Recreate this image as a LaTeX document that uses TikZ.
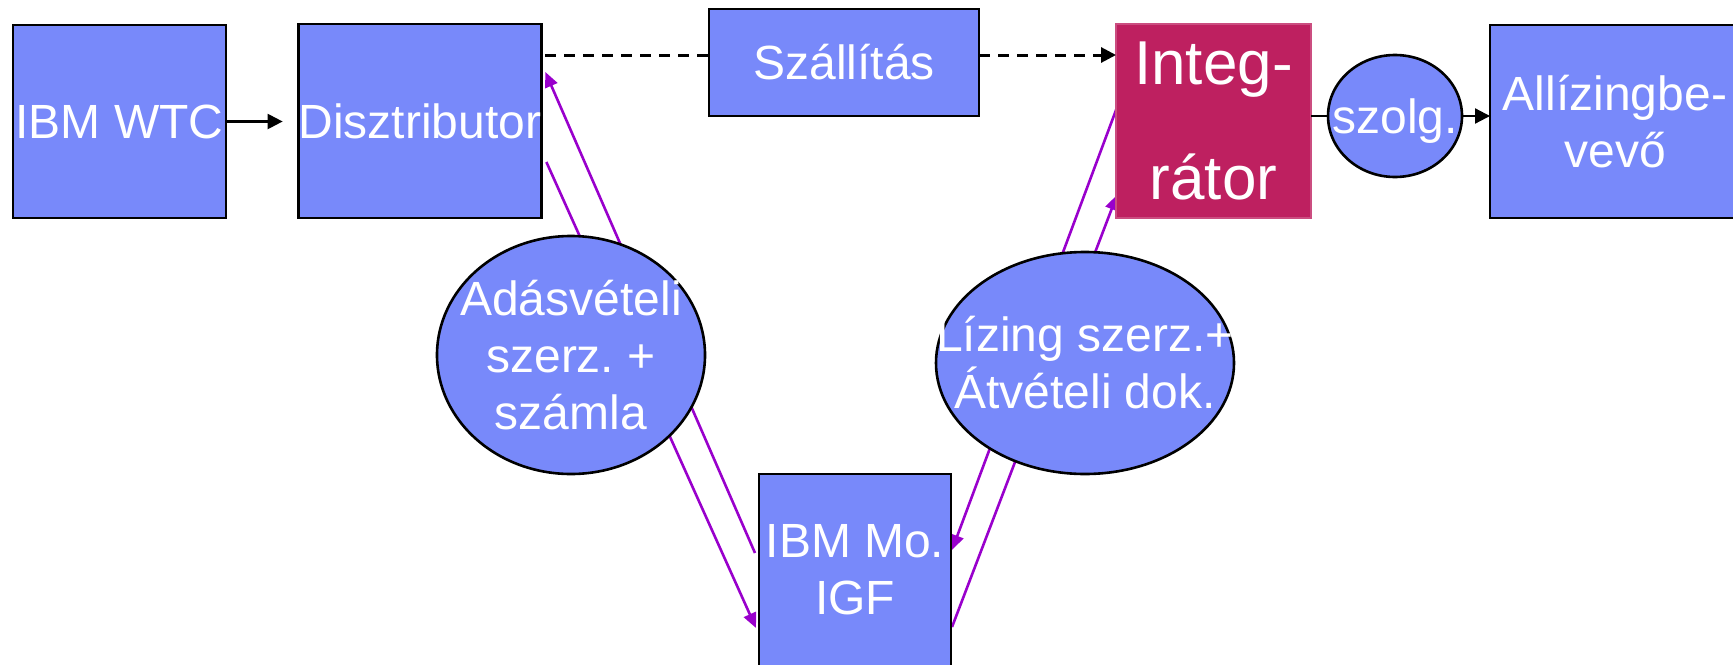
\documentclass[tikz,border=0pt]{standalone}
\usepackage{fontspec}
\setmainfont{Liberation Sans}
\usetikzlibrary{arrows.meta,shapes.geometric,calc}
\definecolor{boxblue}{RGB}{120,137,250}
\definecolor{integred}{RGB}{190,32,96}
\definecolor{flowpurple}{RGB}{153,0,204}
\pgfdeclarelayer{bg}
\pgfsetlayers{bg,main}
\frenchspacing
\tikzset{
  box/.style={rectangle, draw=black, line width=1.3pt, fill=boxblue, inner sep=0pt, outer sep=0pt,
    text=white, font=\fontsize{24}{28.5}\selectfont\frenchspacing, align=center},
  oval/.style={ellipse, draw=black, line width=1.3pt, fill=boxblue, inner sep=0pt, outer sep=0pt},
  lbl/.style={text=white, inner sep=0pt, font=\fontsize{24}{28.5}\selectfont\frenchspacing, align=center},
  blackarrow/.style={line width=1.1pt, -{Triangle[length=7.5pt,width=7.5pt]}},
  dashline/.style={line width=1.5pt, dash pattern=on 5.5pt off 4pt},
  flow/.style={draw=flowpurple, line width=1.3pt, -{Triangle[length=7.5pt,width=6.5pt]}}
}
\begin{document}
\begin{tikzpicture}[x=0.5pt,y=-0.5pt]
\useasboundingbox (0,0) rectangle (1733,664);
\clip (0,0) rectangle (1733,664);
\node[box, minimum width=106.5pt, minimum height=96.5pt] (wtc) at (119.5,121.5) {IBM WTC};
\node[box, minimum width=119pt, minimum height=97pt] (dist) at (420,121) {Disztributor};
\node[box, minimum width=135pt, minimum height=53.5pt] (ship) at (844,62.5) {Szállítás};
\node[box, draw=integred!80!white, fill=integred, line width=0.6pt, minimum width=97.5pt, minimum height=97pt,
  font=\fontsize{31}{57.5}\selectfont] (integ) at (1213.5,121) {Integ-\\rátor};
\node[oval, minimum width=67pt, minimum height=61pt] (szolg) at (1395,116) {};
\node[lbl, text depth=0pt] (szolgt) at (szolg) {szolg.};
\node[box, minimum width=125pt, minimum height=96.5pt] (allz) at (1615,121.5) {Allízingbe-\\vevő};
\node[oval, minimum width=134pt, minimum height=119pt] (adas) at (571,355) {};
\node[lbl] (adast) at (adas) {Adásvételi\\szerz. +\\számla};
\node[box, minimum width=96pt, minimum height=96pt] (igf) at (855,570) {IBM Mo.\\IGF};
\node[oval, minimum width=149pt, minimum height=111pt] (lizing) at (1085,363) {};
\node[lbl] (lizingt) at (lizing) {Lízing szerz.+\\Átvételi dok.};

\draw[blackarrow, shorten >=8pt] (wtc.east) -- (wtc.east -| dist.west);
\draw[dashline] ($(dist.north east)+(4,31)$) -- ($(ship.north west)+(0,46)$);
\draw[dashline, -{Triangle[length=7.5pt,width=7.5pt]}] ($(ship.north east)+(0,46)$) -- ($(integ.north west)+(0,31)$);
\draw[line width=1.1pt] (integ.east |- szolg.west) -- (szolg.west);
\draw[blackarrow] (szolg.east) -- (szolg.east -| allz.west);

\begin{pgfonlayer}{bg}
\draw[flow] ($(igf.north west)+(-4,79)$) -- ($(dist.north east)+(4,48)$);
\draw[flow] ($(dist.north east)+(5,138)$) -- ($(igf.north west)+(-3,154)$);
\draw[flow] ($(integ.north west)+(3,78)$) -- ($(igf.north east)+(1,76)$);
\draw[flow] ($(igf.north east)+(1,153)$) -- ($(integ.north west)+(1,171)$);
\end{pgfonlayer}
\end{tikzpicture}
\end{document}
